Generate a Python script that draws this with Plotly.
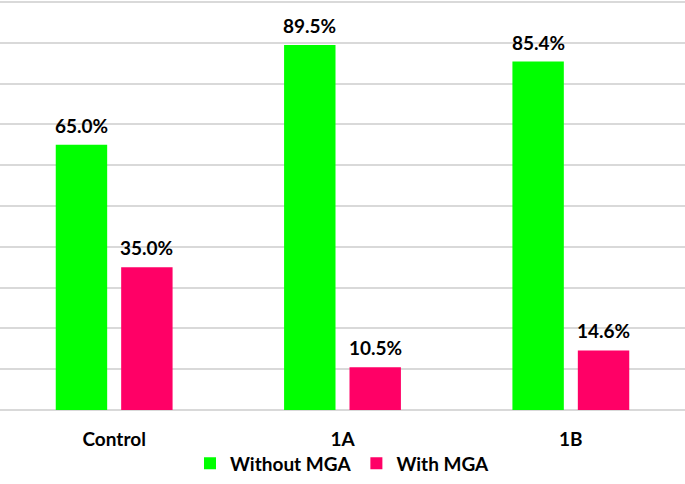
import plotly.graph_objects as go

categories = ["Control", "1A", "1B"]
without_mga = [65.0, 89.5, 85.4]
with_mga = [35.0, 10.5, 14.6]
series_names = ["Without MGA", "With MGA"]
colors = ["#00FF00", "#FF0066"]
y_max = 100

FONT = "Lato"
LABEL_FONT = dict(family=FONT, size=19, color="#000000", weight="bold")

fig = go.Figure()
for name, vals, col in zip(series_names, [without_mga, with_mga], colors):
    fig.add_trace(go.Bar(
        x=categories, y=vals, name=name,
        marker=dict(color=col, line=dict(width=0)),
        cliponaxis=False,
    ))

# value labels above bars, one per bar, placed through the axis scale
group_offsets = [-32.75, 32.75]
for vals, dx in zip([without_mga, with_mga], group_offsets):
    for cat, v in zip(categories, vals):
        fig.add_annotation(x=cat, y=v, xref="x", yref="y", text=f"{v:.1f}%",
                           showarrow=False, yanchor="bottom", xshift=dx, yshift=6,
                           font=LABEL_FONT)

# top gridline at the axis maximum
fig.add_shape(type="line", xref="paper", yref="y", x0=0, x1=1, y0=y_max, y1=y_max,
              line=dict(color="#D9D9D9", width=1.5), layer="below")

fig.update_layout(
    width=685, height=484,
    margin=dict(l=0, r=0, t=0, b=74, autoexpand=False),
    paper_bgcolor="white", plot_bgcolor="white",
    barmode="group", bargap=0.427, bargroupgap=0.214,
    font=dict(family=FONT, size=19, color="#000000"),
    showlegend=True,
    legend=dict(orientation="h", x=0.5, xanchor="center", y=-0.13, yanchor="middle",
                bgcolor="rgba(0,0,0,0)",
                font=LABEL_FONT, itemwidth=30, tracegroupgap=0),
)
fig.update_xaxes(showgrid=False, showline=False, zeroline=False, ticks="",
                 ticklabelstandoff=16, automargin=False,
                 tickfont=LABEL_FONT)
fig.update_yaxes(range=[0, y_max + 0.5], tick0=0, dtick=10, showgrid=True, gridcolor="#D9D9D9",
                 gridwidth=1.5, showticklabels=False, zeroline=True, automargin=False,
                 zerolinecolor="#D9D9D9", zerolinewidth=1.5, showline=False)

fig.write_html("out.html", config={"displayModeBar": False},
               post_script="document.body.style.margin='0';document.body.style.padding='0';")
